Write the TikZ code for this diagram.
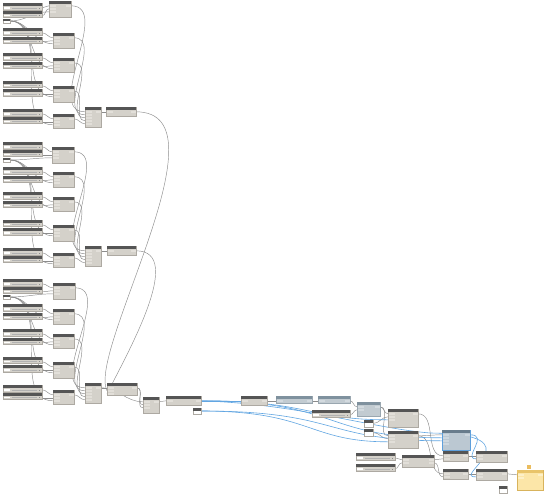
\documentclass[tikz,border=0pt]{standalone}
\usetikzlibrary{fit,backgrounds,calc}
\definecolor{grhd}{HTML}{555555}
\definecolor{grbg}{HTML}{D4D1CA}
\definecolor{grbd}{HTML}{ADA9A2}
\definecolor{grpt}{HTML}{E2DFD9}
\definecolor{blhd}{HTML}{7F919E}
\definecolor{blbg}{HTML}{C2CBD1}
\definecolor{blbd}{HTML}{9AA7B0}
\definecolor{blpt}{HTML}{D3DADF}
\definecolor{sehd}{HTML}{687C8C}
\definecolor{sebg}{HTML}{BBC8D2}
\definecolor{sebd}{HTML}{5E9FDB}
\definecolor{sept}{HTML}{CDD7DF}
\definecolor{yehd}{HTML}{E9C46A}
\definecolor{yebg}{HTML}{FCE6A8}
\definecolor{yebd}{HTML}{D8B35C}
\definecolor{yept}{HTML}{FDF0C8}
\definecolor{wire}{HTML}{8C8C8C}
\definecolor{sel}{HTML}{62A6E2}
\tikzset{
  nd/.style={inner sep=0pt, outer sep=0pt, line width=0.25pt},
  w/.style={draw=wire, line width=0.45pt},
  bw/.style={draw=sel, line width=0.6pt},
  trk/.style={draw=black!30, line width=0.25pt}
}
% generic node: [kind]{name}{x1}{y1}{x2}{y2}{inputs}{outputs}
\newcommand\dyn[8][gr]{%
  \coordinate (#2-a) at (#3,#4);
  \coordinate (#2-b) at (#5,#6);
  \node[nd, fit=(#2-a)(#2-b), draw=#1bd, fill=#1bg] (#2) {};
  \fill[#1hd] (#2.north west) rectangle ([yshift=-3.2pt]#2.north east);
  \ifnum#7>0 \foreach \k in {1,...,#7}{%
    \fill[#1pt] ([shift={(0.5pt,{-(0.6+3*\k)*1pt})}]#2.north west) rectangle ++(6,2.4);
    \coordinate (#2-i\k) at ([yshift={-(1.8+3*\k)*1pt}]#2.north west);}\fi
  \ifnum#8>0 \foreach \k in {1,...,#8}{%
    \fill[#1pt] ([shift={(-0.5pt,{-(0.6+3*\k)*1pt})}]#2.north east) rectangle ++(-5,2.4);
    \coordinate (#2-o\k) at ([yshift={-(1.8+3*\k)*1pt}]#2.north east);}\fi
}
\newcommand\slider[5]{%
  \coordinate (#1-a) at (#2,#3);
  \coordinate (#1-b) at (#4,#5);
  \node[nd, fit=(#1-a)(#1-b), draw=grbd, fill=grbg] (#1) {};
  \fill[grhd] (#1.north west) rectangle ([yshift=-3.3pt]#1.north east);
  \fill[white] ([shift={(1pt,-4pt)}]#1.north west) rectangle ([shift={(7pt,0.6pt)}]#1.south west);
  \draw[trk] ([shift={(9pt,1.7pt)}]#1.south west) -- ([shift={(-5pt,1.7pt)}]#1.south east);
  \fill[black!45] ([shift={(-3.5pt,1pt)}]#1.south east) rectangle ++(1.5,-1.4);
  \coordinate (#1-o1) at ([yshift=-4.8pt]#1.north east);
}
\newcommand\tinyn[5]{%
  \coordinate (#1-a) at (#2,#3);
  \coordinate (#1-b) at (#4,#5);
  \node[nd, fit=(#1-a)(#1-b), draw=grbd, fill=white] (#1) {};
  \fill[grhd] (#1.north west) rectangle ($(#1.north east)!0.45!(#1.south east)$);
  \coordinate (#1-o1) at (#1.east);
}
\begin{document}
\begin{tikzpicture}[x=1pt,y=-1pt]
\begin{pgfonlayer}{background}
\fill[white] (0,0) rectangle (552,499);
\end{pgfonlayer}
\useasboundingbox (0,0) rectangle (552,499);
% ---------- three repeated blocks on the left ----------
\foreach \off/\bk/\mx/\my in {0/1/49/1,139/2/52/8,276/3/53/7}{
  \slider{Sa\bk}{3}{3+\off}{42}{10+\off}
  \slider{Sb\bk}{3}{11+\off}{42}{17+\off}
  \tinyn{Nc\bk}{3}{19+\off}{10}{23+\off}
  \slider{Pa\bk}{3}{28+\off}{42}{35+\off}
  \slider{Pb\bk}{3}{37+\off}{42}{43+\off}
  \slider{Pc\bk}{3}{53+\off}{42}{60+\off}
  \slider{Pd\bk}{3}{62+\off}{42}{68+\off}
  \slider{Pe\bk}{3}{81+\off}{42}{87+\off}
  \slider{Pf\bk}{3}{89+\off}{42}{96+\off}
  \slider{Pg\bk}{3}{109+\off}{42}{116+\off}
  \slider{Ph\bk}{3}{117+\off}{42}{123+\off}
  \dyn{Ma\bk}{\mx}{\my+\off}{\mx+22}{\my+\off+16}{3}{1}
  \dyn{Mb\bk}{53}{33+\off}{74}{48+\off}{3}{1}
  \dyn{Mc\bk}{53}{58+\off}{74}{72+\off}{3}{1}
  \dyn{Md\bk}{53}{86+\off}{74}{102+\off}{3}{1}
  \dyn{Me\bk}{53}{114+\off}{74}{128+\off}{3}{1}
  \dyn{L\bk}{85}{107+\off}{101}{127+\off}{5}{1}
}
\dyn{J1}{106}{107}{136}{116}{1}{1}
\dyn{J2}{107}{246}{136}{255}{1}{1}
\dyn{J3}{107}{383}{137}{395}{3}{1}
% ---------- bottom chain ----------
\dyn{K}{143}{397}{159}{413}{3}{1}
\dyn{R}{166}{396}{201}{405}{1}{1}
\tinyn{T}{193}{408}{201}{414}
\dyn{U1}{241}{396}{267}{405}{1}{1}
\dyn[bl]{U2}{276}{396}{312}{403}{1}{1}
\dyn[bl]{U3}{318}{396}{350}{403}{1}{1}
\slider{U4}{312}{410}{350}{417}
\dyn[bl]{V}{357}{402}{380}{416}{2}{1}
\tinyn{W1}{364}{420}{373}{427}
\tinyn{W2}{364}{429}{373}{436}
\dyn{X1}{388}{409}{418}{427}{3}{1}
\dyn{X2}{388}{431}{418}{448}{3}{1}
\dyn[se]{Y}{442}{430}{470}{450}{4}{1}
\slider{Z1}{356}{453}{395}{460}
\slider{Z2}{356}{464}{395}{471}
\dyn{AA}{402}{455}{434}{467}{2}{2}
\dyn{AB1}{443}{451}{468}{461}{2}{1}
\dyn{AB2}{443}{469}{468}{479}{2}{1}
\dyn{AC1}{476}{451}{507}{462}{2}{1}
\dyn{AC2}{476}{469}{507}{480}{2}{1}
\dyn[ye]{YEL}{517}{470}{543}{490}{2}{1}
\tinyn{SM}{499}{486}{507}{493}
\fill[yehd!90!orange] (527,465) rectangle (531,468.5);
\coordinate (bj) at (430,433);
% ---------- wires ----------
\begin{pgfonlayer}{background}
\foreach \bk in {1,2,3}{
  \draw[w] (Sa\bk-o1) to[out=0,in=180] (Ma\bk-i1);
  \draw[w] (Sb\bk-o1) to[out=0,in=180] (Ma\bk-i2);
  \foreach \m in {a,b,c,d,e}{\draw[w] (Nc\bk-o1) to[out=0,in=180] (M\m\bk-i3);}
  \draw[w] (Pa\bk-o1) to[out=0,in=180] (Mb\bk-i1);
  \draw[w] (Pb\bk-o1) to[out=0,in=180] (Mb\bk-i2);
  \draw[w] (Pc\bk-o1) to[out=0,in=180] (Mc\bk-i1);
  \draw[w] (Pd\bk-o1) to[out=0,in=180] (Mc\bk-i2);
  \draw[w] (Pe\bk-o1) to[out=0,in=180] (Md\bk-i1);
  \draw[w] (Pf\bk-o1) to[out=0,in=180] (Md\bk-i2);
  \draw[w] (Pg\bk-o1) to[out=0,in=180] (Me\bk-i1);
  \draw[w] (Ph\bk-o1) to[out=0,in=180] (Me\bk-i2);
  \draw[w] (Ma\bk-o1) to[out=0,in=180] (L\bk-i1);
  \draw[w] (Mb\bk-o1) to[out=0,in=180] (L\bk-i2);
  \draw[w] (Mc\bk-o1) to[out=0,in=180] (L\bk-i3);
  \draw[w] (Md\bk-o1) to[out=0,in=180] (L\bk-i4);
  \draw[w] (Me\bk-o1) to[out=0,in=180] (L\bk-i5);
}
\draw[w] (L1-o1) to[out=0,in=180] (J1-i1);
\draw[w] (L2-o1) to[out=0,in=180] (J2-i1);
\draw[w] (L3-o1) to[out=0,in=180] (J3-i1);
\draw[w] (J1-o1) .. controls +(95,0) and +(-20,-40) .. (J3-i2);
\draw[w] (J2-o1) .. controls +(50,0) and +(20,-40) .. (J3-i3);
\draw[w] (L3-o1) to[out=0,in=180] (K-i1);
\draw[w] (J3-o1) to[out=0,in=180] (K-i2);
\draw[w] (J3-o1) to[out=0,in=180] (K-i3);
\draw[w] (K-o1) to[out=0,in=180] (R-i1);
\draw[w] (U1-o1) to[out=0,in=180] (U2-i1);
\draw[w] (U2-o1) to[out=0,in=180] (U3-i1);
\draw[w] (U3-o1) to[out=0,in=180] (V-i1);
\draw[w] (U4-o1) to[out=0,in=180] (V-i2);
\draw[w] (V-o1) to[out=0,in=180] (X1-i1);
\draw[w] (V-o1) to[out=0,in=180] (X2-i1);
\draw[w] (W1-o1) to[out=0,in=180] (X1-i2);
\draw[w] (W2-o1) to[out=0,in=180] (X2-i2);
\draw[w] (X1-o1) to[out=0,in=180] (AB1-i1);
\draw[w] (X2-o1) to[out=0,in=180] (Y-i1);
\draw[w] (X2-o1) to[out=0,in=180] (AB2-i1);
\draw[w] (Z1-o1) to[out=0,in=180] (AA-i1);
\draw[w] (Z2-o1) to[out=0,in=180] (AA-i2);
\draw[w] (AA-o1) to[out=0,in=180] (AB1-i2);
\draw[w] (AA-o2) to[out=0,in=180] (AB2-i2);
\draw[w] (AB1-o1) to[out=0,in=180] (AC1-i1);
\draw[w] (AB2-o1) to[out=0,in=180] (AC2-i1);
\draw[w] (AC2-o1) to[out=0,in=180] (YEL-i1);
% selected (blue) wires
\draw[bw] (R-o1) -- (U1-i1);
\draw[bw] (R-o1) .. controls +(110,0) and +(-80,0) .. (X1-i3);
\draw[bw] (R-o1) .. controls +(140,0) and +(-120,0) .. (Y-i2);
\draw[bw] (T-o1) .. controls +(110,0) and +(-80,0) .. (X2-i3);
\draw[bw] (T-o1) .. controls +(140,0) and +(-120,0) .. (Y-i3);
\draw[bw] (R-o1) .. controls (300,404) and (370,428) .. (bj) .. controls (540,434) and (450,478) .. (AC2-i2);
\draw[bw] (Y-o1) .. controls +(20,0) and +(-14,0) .. (AC1-i2);
\end{pgfonlayer}
\end{tikzpicture}
\end{document}
